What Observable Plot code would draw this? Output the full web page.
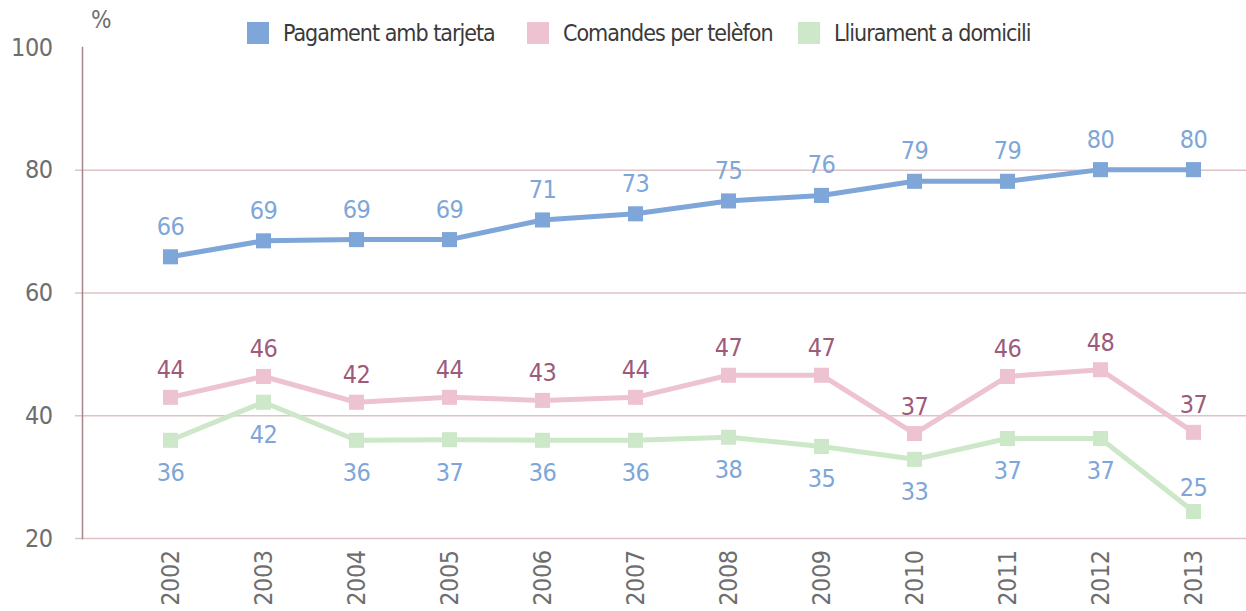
<!DOCTYPE html>
<html><head><meta charset="utf-8">
<script src="https://cdn.jsdelivr.net/npm/d3@7"></script>
<script src="https://cdn.jsdelivr.net/npm/@observablehq/plot@0.6"></script>
<style>
body{margin:0;background:#fff;font-family:"DejaVu Sans Condensed","Liberation Sans Narrow",sans-serif;}
#legend{position:relative;height:44px;width:1246px;color:#3a3a3a;font-size:23px;letter-spacing:-1px;}
#legend .pct{position:absolute;left:91px;top:6px;color:#6e6e6e;font-size:24px;letter-spacing:0;}
#legend .item{position:absolute;top:22px;height:22px;display:flex;align-items:center;white-space:nowrap;}
#legend .sw{width:22px;height:22px;margin-right:14px;flex:none;}
svg{overflow:visible}
svg text{letter-spacing:-0.5px}
</style></head><body>
<div id="legend"></div><div id="chart"></div>
<script>
const years = [2002,2003,2004,2005,2006,2007,2008,2009,2010,2011,2012,2013];
const pagament   = [65.9,68.5,68.7,68.7,71.9,72.9,75.0,75.9,78.2,78.2,80.1,80.1];
const comandes   = [43.0,46.4,42.2,43.0,42.5,43.0,46.6,46.6,37.1,46.4,47.5,37.3];
const lliurament = [36.0,42.2,36.0,36.1,36.0,36.0,36.5,35.0,32.9,36.3,36.3,24.4];
const pagamentLabels   = [66,69,69,69,71,73,75,76,79,79,80,80];
const comandesLabels   = [44,46,42,44,43,44,47,47,37,46,48,37];
const lliuramentLabels = [36,42,36,37,36,36,38,35,33,37,37,25];
const series = ["Pagament amb tarjeta","Comandes per telèfon","Lliurament a domicili"];
const colors = ["#7ea6d8","#eec3d1","#cde7c9"];
const labelColors = ["#7ea6d8","#9c5b7a","#7ea6d8"];
const yTicks = [20,40,60,80,100];
const gridTicks = [20,40,60,80];

const values = [pagament, comandes, lliurament];
const labels = [pagamentLabels, comandesLabels, lliuramentLabels];
const data = [];
series.forEach((s,i)=>years.forEach((y,j)=>data.push({series:s, year:y, value:values[i][j], label:labels[i][j]})));

// legend
const lg = document.getElementById("legend");
const pct = document.createElement("div"); pct.className="pct"; pct.textContent="%"; lg.appendChild(pct);
const lefts = [247,527,798];
series.forEach((s,i)=>{
  const it=document.createElement("div"); it.className="item"; it.style.left=lefts[i]+"px";
  const sw=document.createElement("div"); sw.className="sw"; sw.style.background=colors[i];
  const tx=document.createElement("span"); tx.textContent=s;
  it.appendChild(sw); it.appendChild(tx); lg.appendChild(it);
});

const font = '"DejaVu Sans Condensed","Liberation Sans Narrow",sans-serif';
const chart = Plot.plot({
  width:1246, height:567,
  marginLeft:82, marginRight:0, marginTop:3, marginBottom:73,
  style:{fontFamily:font, fontSize:"25px", color:"#6e6e6e", background:"#fff", overflow:"visible"},
  x:{type:"point", domain:years, insetLeft:87, insetRight:52, padding:0},
  y:{domain:[20,100]},
  color:{domain:series, range:colors},
  marks:[
    Plot.ruleY(gridTicks,{stroke:"#dcc3c6", strokeWidth:1.5, insetLeft:-7}),
    Plot.frame({anchor:"left", stroke:"#a5848a", strokeWidth:1.5}),
    Plot.axisY(yTicks,{tickSize:0, tickPadding:30, label:null, fill:"#6e6e6e", fontSize:25}),
    Plot.axisX({tickRotate:-90, tickSize:0, tickPadding:12, label:null, fill:"#6e6e6e", fontSize:25, tickFormat:d=>String(d)}),
    Plot.line(data,{x:"year", y:"value", z:"series", stroke:"series", strokeWidth:5}),
    Plot.dot(data,{x:"year", y:"value", symbol:"square", fill:"series", r:8.5}),
    Plot.text(data.filter(d=>d.series===series[0]),{x:"year", y:"value", text:"label", dy:-30, fill:labelColors[0], fontSize:25}),
    Plot.text(data.filter(d=>d.series===series[1]),{x:"year", y:"value", text:"label", dy:-27, fill:labelColors[1], fontSize:25}),
    Plot.text(data.filter(d=>d.series===series[2] && d.year!==2013),{x:"year", y:"value", text:"label", dy:33, fill:labelColors[2], fontSize:25}),
    Plot.text(data.filter(d=>d.series===series[2] && d.year===2013),{x:"year", y:"value", text:"label", dy:-23, fill:labelColors[2], fontSize:25})
  ]
});
document.getElementById("chart").appendChild(chart);
</script>
</body></html>
